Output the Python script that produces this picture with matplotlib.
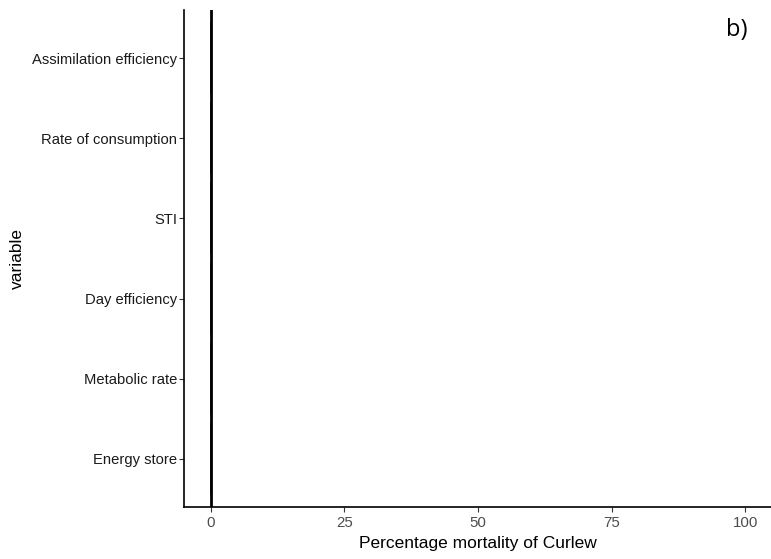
import matplotlib
matplotlib.use("Agg")
import matplotlib.pyplot as plt

plt.rcParams['font.family'] = ['Liberation Sans', 'DejaVu Sans']

variables = ["Energy store", "Metabolic rate", "Day efficiency", "STI",
             "Rate of consumption", "Assimilation efficiency"]
low_values = [-0.1, -0.1, -0.1, -0.1, -0.1, -0.1]
high_values = [0.2, 0.2, 0.2, 0.2, 0.2, 0.2]
xticks = [0, 25, 50, 75, 100]

fig = plt.figure(figsize=(7.71, 5.59), dpi=100)
ax = fig.add_axes([184/771, 1-507/559, (772-184)/771, (507-10)/559])

ypos = list(range(1, len(variables)+1))
ax.barh(ypos, [h - l for h, l in zip(high_values, low_values)], left=low_values,
        height=0.9, color="#555555", edgecolor="none")
ax.axvline(0, color="black", lw=2)

ax.set_xlim(-5, 105)
ax.set_ylim(0.4, 6.6)
ax.set_yticks(ypos)
ax.set_yticklabels(variables, fontsize=10.6, color="#1a1a1a")
ax.set_xticks(xticks)
ax.set_xticklabels([str(x) for x in xticks], fontsize=10.8, color="#4d4d4d")
ax.tick_params(axis='y', length=3.6, width=0.8, color="#333333", pad=1.5)
ax.tick_params(axis='x', length=3.6, width=0.8, color="#333333", pad=3)
for s in ['top', 'right']:
    ax.spines[s].set_visible(False)
for s in ['left', 'bottom']:
    ax.spines[s].set_linewidth(1.2)
    ax.spines[s].set_color("black")

ax.set_xlabel("Percentage mortality of Curlew", fontsize=12.5, labelpad=4)
ax.set_ylabel("variable", fontsize=12.5)
ax.yaxis.set_label_coords(-(184-25)/588, 0.5)

fig.text(737/771, 1-30/559, "b)", fontsize=17, ha='center', va='center',
         family=['Open Sans', 'DejaVu Sans'])

fig.savefig("out.png", dpi=100)
